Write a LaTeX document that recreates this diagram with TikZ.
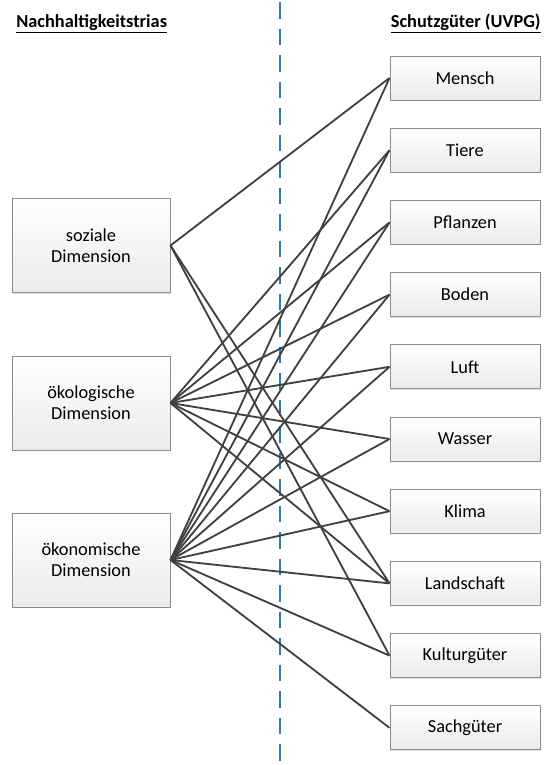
\documentclass[tikz,border=0pt]{standalone}
\usepackage{fontspec}
\setmainfont{Carlito}
\usetikzlibrary{positioning, shadows}

\definecolor{linegray}{HTML}{404040}
\definecolor{boxline}{HTML}{8C8C8C}
\definecolor{divblue}{HTML}{2E75B6}

\tikzset{
  dimbox/.style={draw=boxline, line width=0.6pt, top color=white, bottom color=gray!16,
    drop shadow={shadow xshift=0.6pt, shadow yshift=-0.6pt, opacity=0.25},
    minimum width=94.8pt, minimum height=56.4pt, inner sep=2pt, align=center,
    font=\fontsize{11}{12.5}\selectfont},
  gutbox/.style={draw=boxline, line width=0.6pt, top color=white, bottom color=gray!16,
    drop shadow={shadow xshift=0.6pt, shadow yshift=-0.6pt, opacity=0.25},
    minimum width=90pt, minimum height=26.4pt, inner sep=2pt,
    font=\fontsize{11}{12.5}\selectfont},
  header/.style={inner sep=0pt, font=\fontsize{11}{12.5}\selectfont\bfseries},
  link/.style={draw=linegray, line width=1.1pt},
  divider/.style={draw=divblue, line width=1.4pt, dash pattern=on 9.9pt off 6pt}
}

\begin{document}
\begin{tikzpicture}[x=0.6pt, y=-0.6pt]
    \useasboundingbox (0,0) rectangle (543,765);

    % Headings
    \node[header, anchor=base west] (lefthead) at (16,27) {\underline{Nachhaltigkeitstrias}};
    \node[header, anchor=base east] (righthead) at (541,27) {\underline{Schutzgüter (UVPG)}};

    % Dividing line
    \coordinate (divtop) at (280,2);
    \coordinate (divbot) at (280,765);
    \draw[divider] (divtop) -- (divbot);

    % Dimensions on the left
    \node[dimbox] (soz) at (91,245.5) {soziale\\Dimension};
    \node[dimbox] (oeko) at (91,403) {ökologische\\Dimension};
    \node[dimbox] (oekon) at (91,560) {ökonomische\\Dimension};

    % Protected goods on the right
    \node[gutbox] (mensch) at (465,78) {Mensch};
    \node[gutbox] (tiere) at (465,150.2) {Tiere};
    \node[gutbox] (pflanzen) at (465,222.4) {Pflanzen};
    \node[gutbox] (boden) at (465,294.6) {Boden};
    \node[gutbox] (luft) at (465,366.8) {Luft};
    \node[gutbox] (wasser) at (465,439) {Wasser};
    \node[gutbox] (klima) at (465,511.2) {Klima};
    \node[gutbox] (landschaft) at (465,583.4) {Landschaft};
    \node[gutbox] (kultur) at (465,655.6) {Kulturgüter};
    \node[gutbox] (sach) at (465,727.8) {Sachgüter};

    % Links
    \path[link]
    (soz.east) edge (mensch.west)
    (soz.east) edge (landschaft.west)
    (soz.east) edge (kultur.west);

    \path[link]
    (oeko.east) edge (tiere.west)
    (oeko.east) edge (pflanzen.west)
    (oeko.east) edge (boden.west)
    (oeko.east) edge (luft.west)
    (oeko.east) edge (wasser.west)
    (oeko.east) edge (klima.west)
    (oeko.east) edge (landschaft.west);

    \path[link]
    (oekon.east) edge (mensch.west)
    (oekon.east) edge (tiere.west)
    (oekon.east) edge (pflanzen.west)
    (oekon.east) edge (boden.west)
    (oekon.east) edge (luft.west)
    (oekon.east) edge (wasser.west)
    (oekon.east) edge (klima.west)
    (oekon.east) edge (landschaft.west)
    (oekon.east) edge (kultur.west)
    (oekon.east) edge (sach.west);
\end{tikzpicture}
\end{document}
